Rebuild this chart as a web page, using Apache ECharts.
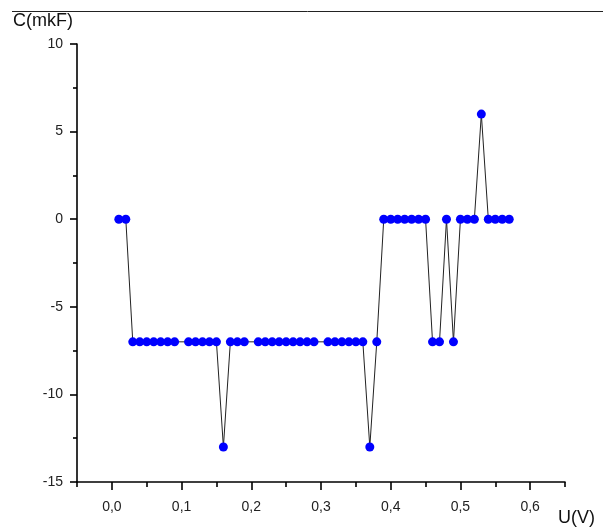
<!DOCTYPE html>
<html>
<head>
<meta charset="utf-8">
<script src="https://cdn.jsdelivr.net/npm/echarts@6/dist/echarts.min.js"></script>
<style>
html,body{margin:0;padding:0;background:#fff;}
#chart{width:603px;height:527px;}
</style>
</head>
<body>
<div id="chart"></div>
<script>
// Data
var uValues = [0.01,0.02,0.03,0.04,0.05,0.06,0.07,0.08,0.09,
  0.11,0.12,0.13,0.14,0.15,0.16,0.17,0.18,0.19,
  0.21,0.22,0.23,0.24,0.25,0.26,0.27,0.28,0.29,
  0.31,0.32,0.33,0.34,0.35,0.36,0.37,0.38,0.39,
  0.40,0.41,0.42,0.43,0.44,0.45,0.46,0.47,0.48,0.49,
  0.50,0.51,0.52,0.53,0.54,0.55,0.56,0.57];
var cValues = [0,0,-7,-7,-7,-7,-7,-7,-7,
  -7,-7,-7,-7,-7,-13,-7,-7,-7,
  -7,-7,-7,-7,-7,-7,-7,-7,-7,
  -7,-7,-7,-7,-7,-7,-13,-7,0,
  0,0,0,0,0,0,-7,-7,0,-7,
  0,0,0,6,0,0,0,0];
var xMajorTicks = [0,0.1,0.2,0.3,0.4,0.5,0.6];
var xMinorTicks = [-0.05,0.05,0.15,0.25,0.35,0.45,0.55,0.65];
var xMin = -0.05, xMax = 0.65;
var yMin = -15, yMax = 10, yStep = 5;

var points = uValues.map(function(u, i){ return [u, cValues[i]]; });
var font = '"Liberation Sans", Arial, sans-serif';

var chart = echarts.init(document.getElementById('chart'), null, {renderer:'canvas'});
chart.setOption({
  animation: false,
  backgroundColor: '#fff',
  grid: {left: 77, right: 38, top: 44, bottom: 43},
  graphic: [{
    type: 'line',
    shape: {x1: 12, y1: 11.5, x2: 603, y2: 11.5},
    style: {stroke: '#222', lineWidth: 1}
  }],
  xAxis: [{
    type: 'value',
    min: xMin, max: xMax,
    name: 'U(V)',
    nameLocation: 'end',
    nameGap: -7,
    nameTextStyle: {fontFamily: font, fontSize: 18, color: '#111', align: 'left', verticalAlign: 'top', padding: [27,0,0,0]},
    axisLine: {show: true, onZero: false, lineStyle: {color: '#000', width: 1.6}},
    axisTick: {show: true, customValues: xMajorTicks, length: 8, lineStyle: {color: '#000', width: 1.6}},
    axisLabel: {customValues: xMajorTicks, margin: 18, fontFamily: font, fontSize: 14, color: '#222',
      formatter: function(v){ return v.toFixed(1).replace('.', ','); }},
    splitLine: {show: false}
  }, {
    type: 'value',
    min: xMin, max: xMax,
    position: 'bottom',
    axisLine: {show: false, onZero: false},
    axisTick: {show: true, customValues: xMinorTicks, length: 5, lineStyle: {color: '#000', width: 1.6}},
    axisLabel: {show: false},
    splitLine: {show: false}
  }],
  yAxis: {
    type: 'value',
    min: yMin, max: yMax, interval: yStep,
    name: 'C(mkF)',
    nameLocation: 'end',
    nameGap: 14,
    nameTextStyle: {fontFamily: font, fontSize: 18, color: '#111', align: 'right', padding: [0, 4, 0, 0]},
    axisLine: {show: true, onZero: false, lineStyle: {color: '#000', width: 1.6}},
    axisTick: {show: true, length: 7, lineStyle: {color: '#000', width: 1.6}},
    minorTick: {show: true, splitNumber: 2, length: 4, lineStyle: {color: '#000', width: 1.6}},
    axisLabel: {margin: 14, fontFamily: font, fontSize: 14, color: '#222'},
    splitLine: {show: false}
  },
  series: [{
    type: 'line',
    xAxisIndex: 0,
    data: points,
    symbol: 'circle',
    symbolSize: 9,
    showAllSymbol: true,
    itemStyle: {color: '#0000ff', borderWidth: 0},
    lineStyle: {color: '#222', width: 1},
    emphasis: {disabled: true}
  }]
});
</script>
</body>
</html>
